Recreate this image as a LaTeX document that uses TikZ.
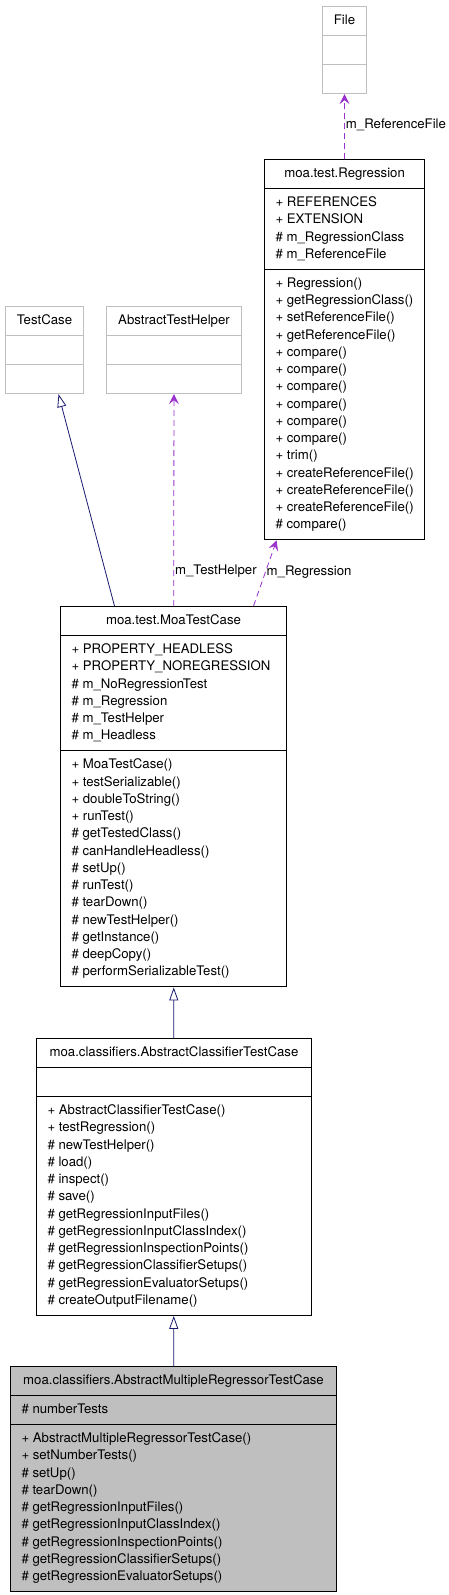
\documentclass[tikz,border=0pt]{standalone}
\usepackage{fontspec}
\setmainfont{TeX Gyre Heros}
\usetikzlibrary{shapes.multipart,arrows.meta,positioning}
\definecolor{genblue}{HTML}{191970}
\definecolor{assocpurple}{HTML}{9A32CD}
\definecolor{boxgray}{HTML}{BFBFBF}
\newcommand{\members}[1]{\begin{tabular}{@{}l@{}}#1\end{tabular}}

\begin{document}
\begin{tikzpicture}[
    x=1pt, y=1pt,
    umlclass/.style={rectangle split, rectangle split parts=3, draw, line width=1pt,
        rectangle split part align={center,left,left},
        inner xsep=11pt, inner ysep=5.4pt, anchor=north west,
        font=\fontsize{13.2}{17.25}\selectfont},
    ghost/.style={umlclass, draw=boxgray},
    current/.style={umlclass, fill=boxgray},
    gen/.style={draw=genblue, line width=0.8pt, -{Triangle[open, length=13pt, width=9pt]}},
    assoc/.style={draw=assocpurple, line width=0.8pt, dash pattern=on 6pt off 4pt,
        -{Stealth[length=10pt, width=10pt, inset=4pt]}},
    role/.style={anchor=west, inner sep=0pt, xshift=1pt, font=\fontsize{13.2}{15}\selectfont}
]
\useasboundingbox (0,0) rectangle (449,-1595);

% external classes
\node[ghost, minimum width=44pt] (file) at (322,-6) {\strut File \nodepart{two}\strut \nodepart{three}\strut};
\node[ghost, minimum width=78pt] (testcase) at (5,-306) {\strut TestCase \nodepart{two}\strut \nodepart{three}\strut};
\node[ghost, minimum width=135pt] (helper) at (106,-306) {\strut AbstractTestHelper \nodepart{two}\strut \nodepart{three}\strut};

\node[umlclass, minimum width=160pt] (regression) at (264,-159) {\strut moa.test.Regression
  \nodepart{two}\members{+ REFERENCES\\ + EXTENSION\\ \# m\_RegressionClass\\ \# m\_ReferenceFile}
  \nodepart{three}\members{+ Regression()\\ + getRegressionClass()\\ + setReferenceFile()\\ + getReferenceFile()\\
    + compare()\\ + compare()\\ + compare()\\ + compare()\\ + compare()\\ + compare()\\ + trim()\\
    + createReferenceFile()\\ + createReferenceFile()\\ + createReferenceFile()\\ \# compare()}};

\node[umlclass, minimum width=226pt] (moatest) at (60,-606) {\strut moa.test.MoaTestCase
  \nodepart{two}\members{+ PROPERTY\_HEADLESS\\ + PROPERTY\_NOREGRESSION\\ \# m\_NoRegressionTest\\
    \# m\_Regression\\ \# m\_TestHelper\\ \# m\_Headless}
  \nodepart{three}\members{+ MoaTestCase()\\ + testSerializable()\\ + doubleToString()\\ + runTest()\\
    \# getTestedClass()\\ \# canHandleHeadless()\\ \# setUp()\\ \# runTest()\\ \# tearDown()\\
    \# newTestHelper()\\ \# getInstance()\\ \# deepCopy()\\ \# performSerializableTest()}};

\node[umlclass, minimum width=275pt] (classifier) at (36,-1038) {\strut moa.classifiers.AbstractClassifierTestCase
  \nodepart{two}\strut
  \nodepart{three}\members{+ AbstractClassifierTestCase()\\ + testRegression()\\ \# newTestHelper()\\ \# load()\\
    \# inspect()\\ \# save()\\ \# getRegressionInputFiles()\\ \# getRegressionInputClassIndex()\\
    \# getRegressionInspectionPoints()\\ \# getRegressionClassifierSetups()\\
    \# getRegressionEvaluatorSetups()\\ \# createOutputFilename()}};

% class of this page
\node[current, minimum width=326pt] (regressor) at (10,-1366) {\strut moa.classifiers.AbstractMultipleRegressorTestCase
  \nodepart{two}\members{\# numberTests}
  \nodepart{three}\members{+ AbstractMultipleRegressorTestCase()\\ + setNumberTests()\\ \# setUp()\\ \# tearDown()\\
    \# getRegressionInputFiles()\\ \# getRegressionInputClassIndex()\\ \# getRegressionInspectionPoints()\\
    \# getRegressionClassifierSetups()\\ \# getRegressionEvaluatorSetups()}};

% inheritance
\draw[gen] ([xshift=-59pt]moatest.north) -- ([xshift=14pt]testcase.south);
\draw[gen] (classifier) -- (moatest);
\draw[gen] (regressor) -- (classifier);

% usage
\draw[assoc] (regression) -- node[role, pos=0.52] {m\_ReferenceFile} (file);
\draw[assoc] (moatest) -- node[role, pos=0.166] {m\_TestHelper} (helper);
\draw[assoc] ([xshift=80pt]moatest.north) -- node[role, pos=0.51] {m\_Regression} ([xshift=-68pt]regression.south);
\end{tikzpicture}
\end{document}
